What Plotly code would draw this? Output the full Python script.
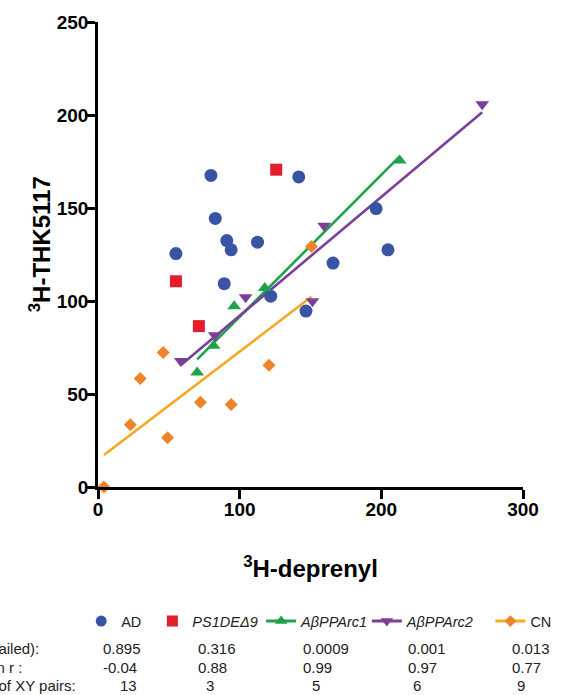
import numpy as np
import plotly.graph_objects as go

# ---- data ----
ad_x = [55.0, 79.7, 141.7, 82.8, 90.9, 94.0, 112.6, 89.1, 121.9, 146.8, 165.9, 196.3, 204.7]
ad_y = [125.5, 167.5, 166.7, 144.4, 132.5, 127.5, 131.6, 109.3, 102.6, 94.6, 120.4, 149.7, 127.5]

ps1_x = [55.0, 71.2, 125.8]
ps1_y = [110.6, 86.5, 170.6]

arc1_x = [70.0, 81.6, 96.1, 117.7, 213.0]
arc1_y = [61.6, 75.9, 97.2, 107.0, 175.6]

arc2_x = [58.4, 82.4, 104.2, 151.4, 159.6, 271.2]
arc2_y = [67.8, 81.6, 102.0, 99.9, 140.5, 205.8]

cn_x = [4.2, 22.8, 29.8, 46.0, 49.1, 72.3, 94.0, 120.7, 150.7]
cn_y = [0.0, 33.5, 58.4, 72.3, 26.5, 45.6, 44.3, 65.5, 129.3]

group_names = ["AD", "<i>PS1DEΔ9</i>", "<i>AβPPArc1</i>", "<i>AβPPArc2</i>", "CN"]
p_values = ["0.895", "0.316", "0.0009", "0.001", "0.013"]
pearson_r = ["-0.04", "0.88", "0.99", "0.97", "0.77"]
n_pairs = ["13", "3", "5", "6", "9"]
row_labels = ["P value (two-tailed):", "Pearson r :", "Number of XY pairs:"]

x_ticks = [0, 100, 200, 300]
y_ticks = [0, 50, 100, 150, 200, 250]

# ---- styles ----
C_AD = "#3a54a4"
C_PS1 = "#e31d2c"
C_ARC1 = "#1ea34a"
C_ARC2 = "#7b3f98"
C_CN = "#f08329"
C_CN_LINE = "#f7a823"
FONT = "Liberation Sans, Arial, sans-serif"

# figure geometry (px)
W, H = 568, 695
ML, MR, MT, MB = 98, 40, 19, 208
PW, PH = W - ML - MR, H - MT - MB


def px_x(p):
    return (p - ML) / PW


def px_y(p):
    return (H - MB - p) / PH


fig = go.Figure()


def fit_line(xs, ys):
    k, b = np.polyfit(xs, ys, 1)
    xx = np.array([min(xs), max(xs)])
    return xx, k * xx + b


groups = [
    (ad_x, ad_y, dict(symbol="circle", size=13, color=C_AD), None),
    (ps1_x, ps1_y, dict(symbol="square", size=12, color=C_PS1), None),
    (arc1_x, arc1_y, dict(symbol="triangle-up", size=12, color=C_ARC1), C_ARC1),
    (arc2_x, arc2_y, dict(symbol="triangle-down", size=12, color=C_ARC2), C_ARC2),
    (cn_x, cn_y, dict(symbol="diamond", size=10, color=C_CN), C_CN_LINE),
]

# regression lines
for xs, ys, mk, lc in groups:
    if lc is not None:
        lx, ly = fit_line(xs, ys)
        fig.add_trace(go.Scatter(x=lx, y=ly, mode="lines",
                                 line=dict(color=lc, width=2.6),
                                 showlegend=False, hoverinfo="skip"))

# data points
for xs, ys, mk, lc in groups:
    fig.add_trace(go.Scatter(x=xs, y=ys, mode="markers",
                             marker=dict(line=dict(width=0), **mk),
                             showlegend=False, cliponaxis=False))

# legend entries, each in its own legend box so it can be placed like the reference
legend_start_px = [81, 153, 263, 370, 495]
legend_ids = ["legend", "legend2", "legend3", "legend4", "legend5"]
for name, (xs, ys, mk, lc), lid in zip(group_names, groups, legend_ids):
    lmk = dict(mk)
    lmk["size"] = 11 if mk["symbol"] != "diamond" else 9
    fig.add_trace(go.Scatter(
        x=[None], y=[None], name=name, legend=lid,
        mode="lines+markers" if lc else "markers",
        marker=dict(line=dict(width=0), **lmk),
        line=dict(color=lc if lc else mk["color"], width=3),
        showlegend=True))

legend_layouts = {}
for lid, lx in zip(legend_ids, legend_start_px):
    legend_layouts[lid] = dict(
        orientation="h", x=px_x(lx), y=px_y(622), xanchor="left", yanchor="middle",
        font=dict(family=FONT, size=14.5, color="#222"),
        itemwidth=30, bgcolor="rgba(0,0,0,0)")

# table annotations
col_float_px = [101, 197, 303, 410, 515]
col_int_px = [118, 205, 312, 415, 520]
row_py = [650, 669, 687]
label_end_px = [40, 23, 78]

ann = []
for lbl, ex, py in zip(row_labels, label_end_px, row_py):
    ann.append(dict(text=lbl, x=px_x(ex), y=px_y(py), xref="paper", yref="paper",
                    xanchor="right", yanchor="middle", showarrow=False,
                    font=dict(family=FONT, size=15, color="#222")))
for vals, cols, py in [(p_values, col_float_px, row_py[0]),
                       (pearson_r, col_float_px, row_py[1]),
                       (n_pairs, col_int_px, row_py[2])]:
    for v, cx in zip(vals, cols):
        ann.append(dict(text=v, x=px_x(cx), y=px_y(py), xref="paper", yref="paper",
                        xanchor="left", yanchor="middle", showarrow=False,
                        font=dict(family=FONT, size=15, color="#222")))

# y-axis title as a rotated annotation, placed like the reference
ann.append(dict(text="<sup>3</sup>H-THK5117", x=px_x(39), y=px_y(243),
                xref="paper", yref="paper", textangle=-90,
                xanchor="center", yanchor="middle", showarrow=False,
                font=dict(family=FONT, size=24, color="black", weight="bold")))

axis_common = dict(
    showline=True, linecolor="black", linewidth=2.6,
    ticks="outside", ticklen=9, tickwidth=2.6, tickcolor="black",
    showgrid=False, zeroline=False, ticklabelstandoff=-6,
    tickfont=dict(family=FONT, size=19, color="black", weight="bold"),
)

fig.update_layout(
    width=W, height=H,
    margin=dict(l=ML, r=MR, t=MT, b=MB),
    paper_bgcolor="white", plot_bgcolor="white",
    xaxis=dict(range=[0, 300], tickvals=x_ticks, **axis_common,
               title=dict(text="<sup>3</sup>H-deprenyl", standoff=42,
                          font=dict(family=FONT, size=24, color="black", weight="bold"))),
    yaxis=dict(range=[0, 250], tickvals=y_ticks, **axis_common),
    annotations=ann,
    showlegend=True,
    **legend_layouts,
)

fig.write_html("out.html", post_script="document.body.style.margin='0';",
               config={"displayModeBar": False})
